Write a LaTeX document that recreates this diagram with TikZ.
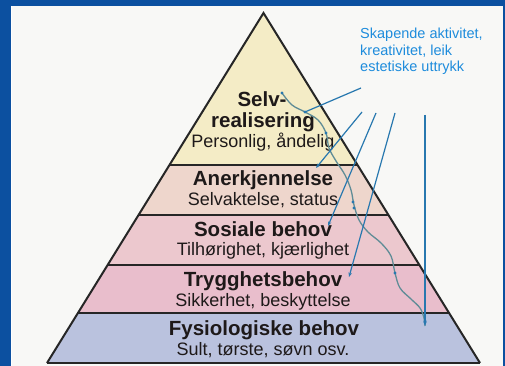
\documentclass[tikz,border=0pt]{standalone}
\usepackage{fontspec}
\setmainfont{Liberation Sans}
\usetikzlibrary{arrows.meta,calc}
\definecolor{frameblue}{RGB}{12,80,160}
\definecolor{bgwhite}{RGB}{248,248,246}
\definecolor{bandA}{RGB}{244,236,198}
\definecolor{bandB}{RGB}{238,214,204}
\definecolor{bandC}{RGB}{236,200,206}
\definecolor{bandD}{RGB}{233,190,204}
\definecolor{bandE}{RGB}{186,194,222}
\definecolor{wavecol}{RGB}{95,140,150}
\definecolor{linecol}{RGB}{40,120,175}
\definecolor{labcol}{RGB}{30,140,220}
\definecolor{txtcol}{RGB}{30,25,25}
\tikzset{
  title/.style={anchor=base,font=\bfseries\fontsize{20.5}{22}\selectfont,text=txtcol,inner sep=0pt},
  sub/.style={anchor=base,font=\fontsize{18}{20}\selectfont,text=txtcol,inner sep=0pt},
  bandline/.style={line width=2pt,draw=black!85},
  wave/.style={draw=wavecol,line width=1.3pt},
  link/.style={draw=linecol,line width=1.2pt},
  linkarrow/.style={link,-{Stealth[length=4.5pt,width=3.5pt]}},
  dotmark/.style={fill=linecol,circle,inner sep=0pt,minimum size=3.2pt}
}
\begin{document}
\begin{tikzpicture}[x=1pt,y=-1pt]
\useasboundingbox (0,0) rectangle (505,366);
\fill[frameblue] (0,0) rectangle (505,366);
\fill[bgwhite] (11,6) rectangle (503,366);
\draw[white,line width=0.8pt] (11.5,6) -- (11.5,366);
% pyramid
\coordinate (apex) at (263.5,13);
\coordinate (bl) at (47,363);
\coordinate (br) at (480,363);
\begin{scope}
\clip (apex) -- (bl) -- (br) -- cycle;
\fill[bandA] (0,0) rectangle (505,165);
\fill[bandB] (0,165) rectangle (505,215);
\fill[bandC] (0,215) rectangle (505,265);
\fill[bandD] (0,265) rectangle (505,313);
\fill[bandE] (0,313) rectangle (505,363);
\draw[bandline] (0,165) -- (505,165);
\draw[bandline] (0,215) -- (505,215);
\draw[bandline] (0,265) -- (505,265);
\draw[bandline] (0,313) -- (505,313);
\end{scope}
\draw[bandline,line join=miter] (bl) -- (apex) -- (br);
\draw[line width=2.4pt,draw=black!85] (bl) -- (br);
% texts
\node[title] (t1a) at (262,107) {Selv-};
\node[title] (t1b) at (263,128) {realisering};
\node[sub] (s1) at (263,148) {Personlig, åndelig};
\node[title] (t2) at (263,185) {Anerkjennelse};
\node[sub] (s2) at (263,205) {Selvaktelse, status};
\node[title] (t3) at (263,236) {Sosiale behov};
\node[sub] (s3) at (263,255) {Tilhørighet, kjærlighet};
\node[title] (t4) at (263,286) {Trygghetsbehov};
\node[sub] (s4) at (263,306) {Sikkerhet, beskyttelse};
\node[title] (t5) at (264,335) {Fysiologiske behov};
\node[sub] (s5) at (263,355) {Sult, tørste, søvn osv.};
% label
\node[anchor=base west,align=left,inner sep=0pt,text=labcol,
      font=\fontsize{14.5}{16.5}\selectfont] (lab) at (360,72)
  {Skapende aktivitet,\\kreativitet, leik\\estetiske uttrykk};
% wave path
\coordinate (w1) at (282,93);
\coordinate (w2) at (292,105);
\coordinate (w3) at (305,112);
\coordinate (w4) at (318,120);
\coordinate (w5) at (326,133);
\coordinate (w6) at (329,148);
\coordinate (w7) at (336,161);
\coordinate (w8) at (345,175);
\coordinate (w9) at (351,190);
\coordinate (w10) at (354,205);
\coordinate (w11) at (359,220);
\coordinate (w12) at (368,232);
\coordinate (w13) at (381,243);
\coordinate (w14) at (391,256);
\coordinate (w15) at (395,273);
\coordinate (w16) at (400,288);
\coordinate (w17) at (411,299);
\coordinate (w18) at (420,308);
\coordinate (w19) at (424,318);
\coordinate (w20) at (425,326);
\draw[wave] plot[smooth,tension=0.6] coordinates {(w1) (w2) (w3) (w4) (w5) (w6) (w7) (w8) (w9) (w10) (w11) (w12) (w13) (w14) (w15) (w16) (w17) (w18) (w19) (w20)};
% links from label
\coordinate (k1) at (361,88);
\coordinate (a1) at (362,112);
\coordinate (a2) at (376,113);
\coordinate (a3) at (395,113);
\coordinate (a4) at (425,115);
\coordinate (e1) at (316,168);
\coordinate (e2) at (328,226);
\coordinate (e3) at (349,277);
\coordinate (e4) at (425,326);
\draw[link] (k1) -- (w3);
\draw[linkarrow] (a1) -- (e1);
\draw[linkarrow] (a2) -- (e2);
\draw[linkarrow] (a3) -- (e3);
\draw[linkarrow] (a4) -- (e4);
% dots
\node[dotmark] (d1) at (w1) {};
\node[dotmark] (d2) at (w3) {};
\node[dotmark] (d3) at (w5) {};
\node[dotmark] (d4) at (353,202) {};
\node[dotmark] (d5) at (354,208) {};
\node[dotmark] (d6) at (w15) {};
\node[dotmark] (d7) at (425,321) {};
\end{tikzpicture}
\end{document}
